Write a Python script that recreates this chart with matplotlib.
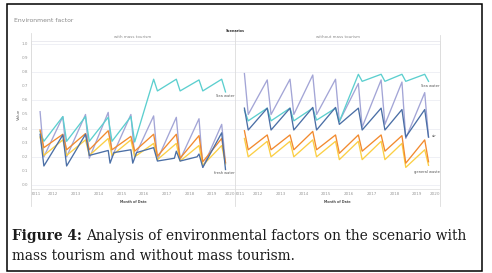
import matplotlib
matplotlib.use("Agg")
import matplotlib.pyplot as plt
import pandas as pd
from matplotlib.lines import Line2D
from matplotlib.patches import Rectangle

W, H, DPI = 492, 273, 100

# ---------------- data ----------------
left_months = ["2011-06", "2011-08", "2012-06", "2012-08", "2013-06", "2013-08",
               "2014-06", "2014-08", "2015-06", "2015-08", "2016-06", "2016-08",
               "2017-06", "2017-08", "2018-06", "2018-08", "2019-06", "2019-08"]
right_months = ["2011-06", "2011-08", "2012-06", "2012-08", "2013-06", "2013-08",
                "2014-06", "2014-08", "2015-06", "2015-08", "2016-06", "2016-08",
                "2017-06", "2017-08", "2018-05", "2018-07", "2019-05", "2019-07"]

left_sea_water = [0.38, 0.31, 0.485, 0.31, 0.485, 0.31, 0.48, 0.31, 0.485, 0.305,
                  0.75, 0.667, 0.75, 0.667, 0.745, 0.667, 0.75, 0.66]
left_lavender = [0.52, 0.20, 0.485, 0.20, 0.50, 0.19, 0.515, 0.20, 0.50, 0.20,
                 0.49, 0.18, 0.48, 0.18, 0.47, 0.125, 0.43, 0.155]
left_orange = [0.39, 0.265, 0.36, 0.25, 0.365, 0.25, 0.385, 0.25, 0.345, 0.24,
               0.36, 0.205, 0.36, 0.19, 0.35, 0.165, 0.33, 0.16]
left_yellow = [0.34, 0.21, 0.32, 0.21, 0.32, 0.21, 0.33, 0.21, 0.32, 0.20,
               0.295, 0.18, 0.295, 0.17, 0.28, 0.14, 0.28, 0.15]
left_blue_months = ["2011-06", "2011-08", "2012-06", "2012-08", "2013-06", "2013-08",
                    "2014-06", "2014-07", "2014-09", "2015-06", "2015-07", "2015-09",
                    "2016-06", "2016-08", "2017-05", "2017-06", "2017-08", "2018-05",
                    "2018-06", "2018-08", "2019-06", "2019-08"]
left_blue = [0.36, 0.135, 0.355, 0.135, 0.36, 0.21, 0.245, 0.155, 0.23, 0.25, 0.155, 0.23,
             0.265, 0.17, 0.19, 0.24, 0.17, 0.20, 0.22, 0.125, 0.37, 0.11]

right_sea_water = [0.53, 0.455, 0.545, 0.455, 0.545, 0.455, 0.545, 0.46, 0.545, 0.45,
                   0.785, 0.735, 0.785, 0.735, 0.785, 0.735, 0.785, 0.735]
right_lavender = [0.79, 0.50, 0.745, 0.50, 0.75, 0.50, 0.78, 0.50, 0.75, 0.45,
                  0.72, 0.41, 0.745, 0.43, 0.73, 0.33, 0.655, 0.34]
right_air = [0.545, 0.39, 0.545, 0.39, 0.545, 0.39, 0.55, 0.39, 0.55, 0.43,
             0.545, 0.39, 0.545, 0.39, 0.535, 0.34, 0.535, 0.34]
right_orange = [0.385, 0.25, 0.355, 0.25, 0.355, 0.25, 0.38, 0.25, 0.355, 0.225,
                0.355, 0.24, 0.355, 0.24, 0.35, 0.155, 0.32, 0.165]
right_yellow = [0.33, 0.20, 0.31, 0.20, 0.31, 0.20, 0.32, 0.20, 0.31, 0.18,
                0.31, 0.18, 0.31, 0.18, 0.295, 0.125, 0.25, 0.14]

years = list(range(2011, 2021))
y_ticks = [0.0, 0.1, 0.2, 0.3, 0.4, 0.5, 0.6, 0.7, 0.8, 0.9, 1.0]
panels = ["with mass tourism", "without mass tourism"]

C_TURQ = "#5ccfcf"
C_LAV = "#a3a5d6"
C_BLUE = "#4b6fa6"
C_ORANGE = "#f28a2e"
C_YELLOW = "#fbcf45"

# ---------------- figure ----------------
fig = plt.figure(figsize=(W / DPI, H / DPI), dpi=DPI)
fig.patch.set_facecolor("white")


def fx(px):
    return px / W


def fy(py):
    return 1 - py / H


top_px, bot_px = 40.7, 188.7
ax_l = fig.add_axes([fx(30.7), fy(bot_px), fx(235) - fx(30.7), fy(top_px) - fy(bot_px)])
ax_r = fig.add_axes([fx(235), fy(bot_px), fx(440) - fx(235), fy(top_px) - fy(bot_px)])

lm = pd.to_datetime(left_months)
rm = pd.to_datetime(right_months)
lbm = pd.to_datetime(left_blue_months)

lw = 0.95
ax_l.plot(lm, left_lavender, color=C_LAV, lw=lw)
ax_l.plot(lm, left_sea_water, color=C_TURQ, lw=lw)
ax_l.plot(lm, left_yellow, color=C_YELLOW, lw=lw)
ax_l.plot(lm, left_orange, color=C_ORANGE, lw=lw)
ax_l.plot(lbm, left_blue, color=C_BLUE, lw=lw)

ax_r.plot(rm, right_lavender, color=C_LAV, lw=lw)
ax_r.plot(rm, right_sea_water, color=C_TURQ, lw=lw)
ax_r.plot(rm, right_yellow, color=C_YELLOW, lw=lw)
ax_r.plot(rm, right_orange, color=C_ORANGE, lw=lw)
ax_r.plot(rm, right_air, color=C_BLUE, lw=lw)

xt = pd.to_datetime([f"{y}-01-01" for y in years])
for ax, name in zip((ax_l, ax_r), panels):
    ax.set_xlim(xt[0], xt[-1])
    ax.set_ylim(-0.026, 1.023)
    ax.set_yticks([v for v in y_ticks if round(v * 10) % 2 == 0])
    ax.yaxis.grid(True, color="#eceef4", lw=0.6)
    ax.set_yticklabels([])
    ax.tick_params(axis="both", length=0, colors="#999999")
    ax.set_xticks(xt)
    labs = ax.set_xticklabels([str(y) for y in years], fontsize=3.0, color="#9a9a9a")
    labs[0].set_ha("left")
    labs[-1].set_ha("right")
    ax.tick_params(axis="x", pad=2.5)
    for s in ax.spines.values():
        s.set_color("#e3e3e3")
        s.set_linewidth(0.6)
    ax.spines["top"].set_color("#e8e8ee")
    ax.set_xlabel("Month of Date", fontsize=2.4, color="#555555", labelpad=2.5,
                  fontweight="bold")
    ax.text(0.5, 1.01, name, transform=ax.transAxes, ha="center", va="bottom",
            fontsize=2.9, color="#888888")
    ax.set_facecolor("white")

ax_r.spines["left"].set_visible(False)

# y tick labels at every 0.1 on the left panel
for v in y_ticks:
    ax_l.text(-0.012, v, f"{v:.1f}", transform=ax_l.get_yaxis_transform(),
              ha="right", va="center", fontsize=3.0, color="#9a9a9a")
ax_l.text(fx(18.5), fy(114), "Value", rotation=90, transform=fig.transFigure,
          ha="center", va="center", fontsize=3.0, color="#666666")

# end-of-line labels
ax_l.text(pd.Timestamp("2019-12-25"), 0.633, "Sea water", ha="right", va="center",
          fontsize=2.6, color="#555555")
ax_l.text(pd.Timestamp("2019-12-25"), 0.087, "fresh water", ha="right", va="center",
          fontsize=2.6, color="#555555")
ax_r.text(pd.Timestamp("2019-12-25"), 0.70, "Sea water", ha="right", va="center",
          fontsize=2.6, color="#555555")
ax_r.text(pd.Timestamp("2019-08-20"), 0.348, "air", ha="left", va="center",
          fontsize=2.6, color="#555555")
ax_r.text(pd.Timestamp("2019-12-25"), 0.095, "general waste", ha="right", va="center",
          fontsize=2.6, color="#555555")

# frame lines of the chart image
for xp, y0, y1 in [(30.7, 33, 206), (235, 30, 206), (440, 35, 206)]:
    fig.add_artist(Line2D([fx(xp), fx(xp)], [fy(y0), fy(y1)], color="#dcdcdc", lw=0.6))

fig.text(fx(235.5), fy(31.5), "Scenarios", ha="center", va="center", fontsize=2.5,
         fontweight="bold", color="#333333")
fig.text(fx(13.5), fy(20), "Environment factor", ha="left", va="center", fontsize=4.4,
         color="#8a8a8a")

# outer border
fig.add_artist(Rectangle((fx(7), fy(271)), fx(482) - fx(7), fy(4) - fy(271),
                         transform=fig.transFigure, fill=False, edgecolor="black", lw=1.1))

# caption
cap_font = "DejaVu Serif"
cap_size = 9.9
cap_color = "#1b1b1b"
t1 = fig.text(fx(12), fy(236), "Figure 4:", ha="left", va="center", fontsize=cap_size,
              fontweight="bold", family=cap_font, color=cap_color)
fig.canvas.draw()
bb = t1.get_window_extent()
fig.text(bb.x1 / W + fx(4), fy(236),
         "Analysis of environmental factors on the scenario with",
         ha="left", va="center", fontsize=cap_size, family=cap_font, color=cap_color)
fig.text(fx(12), fy(256), "mass tourism and without mass tourism.", ha="left",
         va="center", fontsize=cap_size, family=cap_font, color=cap_color)

fig.savefig("out.png", dpi=DPI, facecolor="white")
